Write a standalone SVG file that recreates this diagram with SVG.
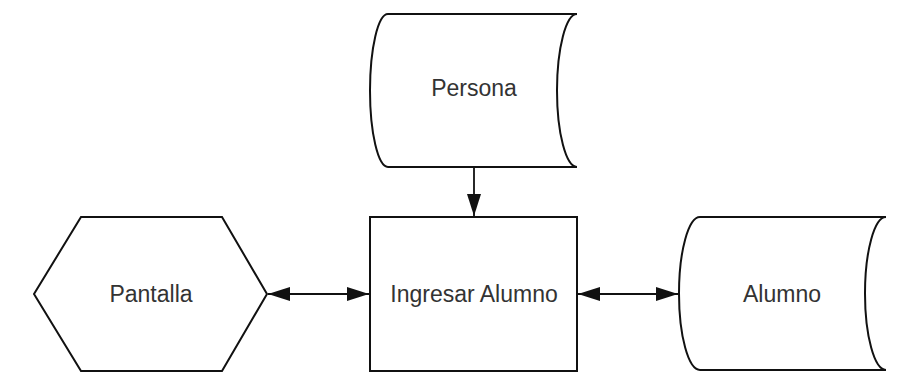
<svg xmlns="http://www.w3.org/2000/svg" width="914" height="373" viewBox="0 0 914 373">
  <style>
    .shape { fill: #ffffff; stroke: #111111; stroke-width: 2; stroke-linejoin: miter; }
    .label { font-family: "Liberation Sans", Arial, sans-serif; font-size: 23px; fill: #333333; text-anchor: middle; }
    .conn { stroke: #111111; stroke-width: 1.8; fill: none; }
  </style>
  <defs>
    <marker id="head" viewBox="0 0 22 14" refX="22" refY="7" markerWidth="22" markerHeight="14" markerUnits="userSpaceOnUse" orient="auto-start-reverse">
      <path d="M0,0 L22,7 L0,14 Z" fill="#111111"/>
    </marker>
  </defs>
  <rect width="914" height="373" fill="#ffffff"/>

  <!-- data store: Persona -->
  <g id="persona">
    <path class="shape" d="M388,14 H577 A20,76.5 0 0 0 577,167 H388 A18,76.5 0 0 1 388,14 Z"/>
    <text class="label" x="474" y="96">Persona</text>
  </g>

  <!-- display: Pantalla -->
  <g id="pantalla">
    <polygon class="shape" points="34,294 81,217 222,217 267,294 222,371 81,371"/>
    <text class="label" x="151" y="302">Pantalla</text>
  </g>

  <!-- process: Ingresar Alumno -->
  <g id="ingresar-alumno">
    <rect class="shape" x="370" y="217" width="207" height="154"/>
    <text class="label" x="474" y="302">Ingresar Alumno</text>
  </g>

  <!-- data store: Alumno -->
  <g id="alumno">
    <path class="shape" d="M700,217 H886 A21,76.5 0 0 0 886,370 H700 A21,76.5 0 0 1 700,217 Z"/>
    <text class="label" x="782" y="302">Alumno</text>
  </g>

  <!-- connectors -->
  <g id="connectors">
    <line class="conn" x1="474" y1="167" x2="474" y2="216" marker-end="url(#head)"/>
    <line class="conn" x1="268" y1="294" x2="369" y2="294" marker-start="url(#head)" marker-end="url(#head)"/>
    <line class="conn" x1="578" y1="294" x2="678" y2="294" marker-start="url(#head)" marker-end="url(#head)"/>
  </g>
</svg>
